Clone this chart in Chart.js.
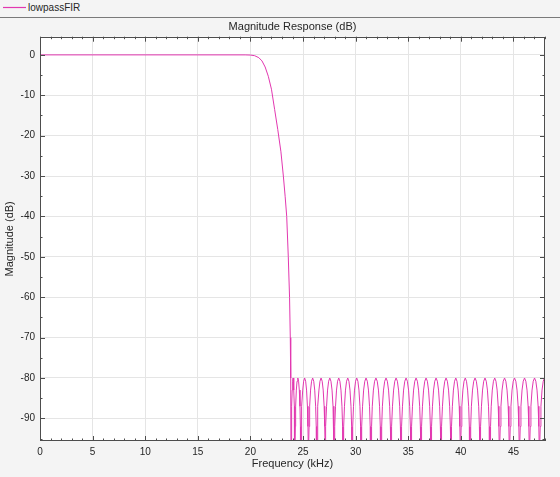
<!DOCTYPE html>
<html>
<head>
<meta charset="utf-8">
<title>Magnitude Response (dB)</title>
<script src="https://cdn.jsdelivr.net/npm/chart.js@4/dist/chart.umd.min.js"></script>
<style>
    html, body { margin: 0; padding: 0; background: #f4f4f4; }
    body { width: 560px; height: 477px; position: relative; overflow: hidden; font-family: "Liberation Sans", Arial, sans-serif; }
    #legend { position: absolute; left: 0; top: 0; width: 560px; height: 17px; border-bottom: 1px solid #7a7a7a; }
    #legend svg { position: absolute; left: 3px; top: 5px; }
    #legend .label { position: absolute; left: 28px; top: 1px; font-size: 10px; line-height: 13px; color: #262626; }
    #magChart { position: absolute; left: 0; top: 18px; }
</style>
</head>
<body>
<div id="legend">
    <svg width="23" height="5"><line x1="0" y1="2.5" x2="23" y2="2.5" stroke="rgb(226, 56, 176)" stroke-width="1.2"/></svg>
    <span class="label">lowpassFIR</span>
</div>
<canvas id="magChart" width="560" height="459"></canvas>
<script>
// 通带 + 过渡带 (kHz, dB)
const passFreq = [0, 19.5, 20.0, 20.4, 20.8, 21.1, 21.4, 21.7, 22.0, 22.3, 22.6, 22.9, 23.13, 23.3, 23.45, 23.6, 23.72, 23.79, 23.83];
const passDb   = [0, 0, -0.05, -0.2, -0.7, -1.5, -3.0, -5.3, -8.5, -13.5, -18.5, -24, -30, -35, -40, -50, -60, -70, -80];

// 阻带零点位置 (kHz)，零点深度在坐标轴以下
const stopNullKHz = [23.89, 24.22, 24.79, 25.52, 26.31, 27.12, 27.97, 28.82, 29.68, 30.53,
                     31.45, 32.41, 33.37, 34.32, 35.27, 36.22, 37.17, 38.12, 39.07, 39.97,
                     40.87, 41.83, 42.76, 43.68, 44.63, 45.58, 46.53, 47.48, 48.43];
const nullDb = -130;

// 单个阻带旁瓣的形状 (旁瓣内相对位置, dB)
const lobeFrac = [0.03, 0.07, 0.14, 0.25, 0.37, 0.5, 0.63, 0.75, 0.86, 0.93, 0.97];
const lobeDb   = [-97, -92, -87, -83, -80.8, -80, -80.8, -83, -87, -92, -97];

// 刻度
const xMajor = [0, 5, 10, 15, 20, 25, 30, 35, 40, 45];
const yMajor = [0, -10, -20, -30, -40, -50, -60, -70, -80, -90];

const LINE_COLOR = 'rgb(226, 56, 176)';
const TEXT_COLOR = '#262626';
const FONT_FAMILY = '"Liberation Sans", Arial, sans-serif';

function buildPoints() {
    const pts = passFreq.map((f, i) => ({ x: f, y: passDb[i] }));
    for (let i = 0; i < stopNullKHz.length; i++) {
        const f0 = stopNullKHz[i];
        pts.push({ x: f0, y: nullDb });
        const f1 = stopNullKHz[i + 1];
        if (f1 === undefined) break;
        lobeFrac.forEach((t, k) => pts.push({ x: f0 + t * (f1 - f0), y: lobeDb[k] }));
    }
    return pts;
}

// 绘图区白色背景
const plotBackground = {
    id: 'plotBackground',
    beforeDraw(chart) {
        const { ctx, chartArea: a } = chart;
        ctx.save();
        ctx.fillStyle = '#ffffff';
        ctx.fillRect(a.left, a.top, a.right - a.left, a.bottom - a.top);
        ctx.restore();
    }
};

// MATLAB 风格: 四边边框 + 向内刻度
const boxTicks = {
    id: 'boxTicks',
    afterDatasetsDraw(chart) {
        const { ctx, chartArea: a, scales: { x, y } } = chart;
        ctx.save();
        ctx.strokeStyle = '#4d4d4d';
        ctx.lineWidth = 1;
        ctx.beginPath();
        const xTick = (v, len) => {
            const px = Math.round(x.getPixelForValue(v)) + 0.5;
            ctx.moveTo(px, a.bottom); ctx.lineTo(px, a.bottom - len);
            ctx.moveTo(px, a.top); ctx.lineTo(px, a.top + len);
        };
        const yTick = (v, len) => {
            const py = Math.round(y.getPixelForValue(v)) + 0.5;
            ctx.moveTo(a.left, py); ctx.lineTo(a.left + len, py);
            ctx.moveTo(a.right, py); ctx.lineTo(a.right - len, py);
        };
        for (let v = 0; v <= x.max; v += 1) xTick(v, v % 5 === 0 ? 5 : 2.5);
        for (let v = 0; v >= y.min; v -= 5) yTick(v, v % 10 === 0 ? 5 : 2.5);
        ctx.stroke();
        ctx.strokeRect(Math.round(a.left) + 0.5, Math.round(a.top) + 0.5,
                       Math.round(a.right - a.left) - 1, Math.round(a.bottom - a.top) - 1);
        ctx.restore();
    }
};

new Chart(document.getElementById('magChart'), {
    type: 'scatter',
    data: {
        datasets: [{
            label: 'lowpassFIR',
            data: buildPoints(),
            showLine: true,
            borderColor: LINE_COLOR,
            borderWidth: 1,
            pointRadius: 0,
            tension: 0
        }]
    },
    options: {
        responsive: false,
        animation: false,
        layout: { padding: { left: 0, right: 15, top: 0, bottom: 0 } },
        plugins: {
            legend: { display: false },
            tooltip: { enabled: false },
            title: {
                display: true,
                fullSize: false,
                text: 'Magnitude Response (dB)',
                color: TEXT_COLOR,
                font: { family: FONT_FAMILY, size: 11, weight: 'normal' },
                padding: { top: 2, bottom: 3.5 }
            }
        },
        scales: {
            x: {
                type: 'linear',
                min: 0,
                max: 48,
                afterFit: s => { s.height = 36; },
                afterBuildTicks: s => { s.ticks = xMajor.map(v => ({ value: v })); },
                grid: { color: '#e5e5e5', drawTicks: false },
                border: { display: false },
                ticks: { color: TEXT_COLOR, padding: 5, font: { family: FONT_FAMILY, size: 10 } },
                title: {
                    display: true,
                    text: 'Frequency (kHz)',
                    color: TEXT_COLOR,
                    font: { family: FONT_FAMILY, size: 11 },
                    padding: { top: 0, bottom: 6 }
                }
            },
            y: {
                type: 'linear',
                min: -95.6,
                max: 4.5,
                afterFit: s => { s.width = 40; },
                afterBuildTicks: s => { s.ticks = yMajor.map(v => ({ value: v })); },
                grid: { color: '#e5e5e5', drawTicks: false },
                border: { display: false },
                ticks: { color: TEXT_COLOR, padding: 5, font: { family: FONT_FAMILY, size: 10 } },
                title: {
                    display: true,
                    text: 'Magnitude (dB)',
                    color: TEXT_COLOR,
                    font: { family: FONT_FAMILY, size: 11 },
                    padding: { top: 3.5, bottom: 0 }
                }
            }
        }
    },
    plugins: [plotBackground, boxTicks]
});
</script>
</body>
</html>
